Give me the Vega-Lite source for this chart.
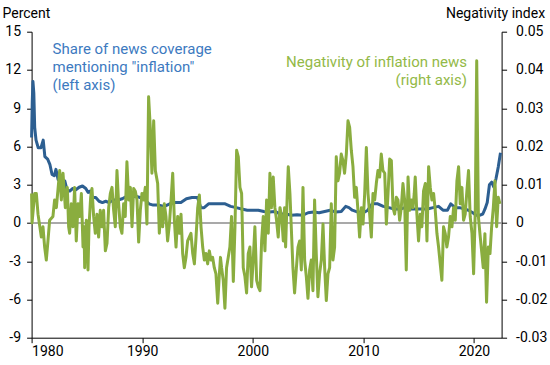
{
"$schema": "https://vega.github.io/schema/vega-lite/v6.json",
"width": 470, "height": 306,
"autosize": "none",
"padding": {"left": 31.6, "top": 31.7, "right": 48.4, "bottom": 27.3},
"config": {"view": {"stroke": null}, "axis": {"grid": false, "domainColor": "#000", "tickColor": "#000", "labelColor": "#000", "labelFont": "Roboto", "labelFontSize": 14, "titleFont": "Roboto", "titleFontSize": 14, "titleFontWeight": "normal", "titleColor": "#000", "tickSize": 5, "domainWidth": 1, "tickWidth": 1, "labelOverlap": false}},
"datasets": {
"share": [
{"t":1980.0,"p":6.7},{"t":1980.06,"p":9.5},{"t":1980.12,"p":11.1},{"t":1980.2,"p":10.2},{"t":1980.28,"p":7.5},{"t":1980.4,"p":6.5},{"t":1980.6,"p":5.9},{"t":1980.85,"p":5.9},{"t":1981.05,"p":6.5},{"t":1981.2,"p":5.2},{"t":1981.45,"p":5.0},{"t":1981.65,"p":4.6},{"t":1981.85,"p":3.8},{"t":1982.05,"p":3.7},{"t":1982.2,"p":4.2},{"t":1982.4,"p":3.4},{"t":1982.6,"p":3.3},{"t":1982.85,"p":3.0},{"t":1983.0,"p":3.3},{"t":1983.2,"p":2.6},{"t":1983.45,"p":2.5},{"t":1983.7,"p":2.7},{"t":1984.0,"p":2.6},{"t":1984.3,"p":2.8},{"t":1984.6,"p":2.9},{"t":1984.9,"p":2.7},{"t":1985.1,"p":2.4},{"t":1985.3,"p":2.5},{"t":1985.5,"p":2.0},{"t":1985.8,"p":2.0},{"t":1986.1,"p":1.7},{"t":1986.4,"p":1.6},{"t":1986.7,"p":1.7},{"t":1987.0,"p":1.6},{"t":1987.4,"p":1.8},{"t":1987.8,"p":1.8},{"t":1988.2,"p":1.9},{"t":1988.6,"p":2.1},{"t":1989.0,"p":2.0},{"t":1989.4,"p":2.1},{"t":1989.8,"p":2.0},{"t":1990.2,"p":1.9},{"t":1990.6,"p":1.5},{"t":1991.0,"p":1.4},{"t":1991.5,"p":1.4},{"t":1992.0,"p":1.3},{"t":1992.5,"p":1.5},{"t":1993.0,"p":1.6},{"t":1993.5,"p":1.6},{"t":1994.0,"p":1.9},{"t":1994.5,"p":2.0},{"t":1995.0,"p":2.0},{"t":1995.3,"p":1.2},{"t":1995.6,"p":1.2},{"t":1996.0,"p":1.5},{"t":1996.5,"p":1.5},{"t":1997.0,"p":1.5},{"t":1997.5,"p":1.5},{"t":1998.0,"p":1.3},{"t":1998.5,"p":1.2},{"t":1999.0,"p":1.1},{"t":1999.5,"p":1.0},{"t":2000.0,"p":1.0},{"t":2000.5,"p":1.0},{"t":2001.0,"p":0.9},{"t":2001.5,"p":0.85},{"t":2002.0,"p":0.9},{"t":2002.5,"p":0.7},{"t":2003.0,"p":0.7},{"t":2003.5,"p":0.6},{"t":2004.0,"p":0.65},{"t":2004.5,"p":0.6},{"t":2005.0,"p":0.8},{"t":2005.5,"p":0.85},{"t":2006.0,"p":0.8},{"t":2006.5,"p":0.9},{"t":2007.0,"p":1.0},{"t":2007.5,"p":0.85},{"t":2008.0,"p":0.9},{"t":2008.4,"p":1.3},{"t":2008.7,"p":1.2},{"t":2009.0,"p":1.0},{"t":2009.5,"p":0.85},{"t":2010.0,"p":0.8},{"t":2010.4,"p":1.0},{"t":2010.8,"p":1.5},{"t":2011.3,"p":1.5},{"t":2011.8,"p":1.3},{"t":2012.3,"p":1.2},{"t":2012.8,"p":1.1},{"t":2013.3,"p":1.1},{"t":2013.8,"p":1.2},{"t":2014.3,"p":1.1},{"t":2014.8,"p":1.1},{"t":2015.3,"p":1.1},{"t":2015.8,"p":1.1},{"t":2016.3,"p":1.2},{"t":2016.8,"p":1.3},{"t":2017.2,"p":1.0},{"t":2017.6,"p":1.0},{"t":2017.9,"p":1.5},{"t":2018.3,"p":1.2},{"t":2018.7,"p":1.2},{"t":2019.1,"p":1.1},{"t":2019.5,"p":1.0},{"t":2019.9,"p":0.8},{"t":2020.2,"p":0.6},{"t":2020.5,"p":0.6},{"t":2020.8,"p":0.7},{"t":2021.0,"p":1.1},{"t":2021.2,"p":1.6},{"t":2021.4,"p":3.0},{"t":2021.6,"p":3.2},{"t":2021.8,"p":2.8},{"t":2022.0,"p":3.5},{"t":2022.2,"p":4.4},{"t":2022.4,"p":5.5}
],
"neg": [
{"t":1980.0,"v":0.0077},{"t":1980.04,"v":0.0},{"t":1980.28,"v":0.0077},{"t":1980.43,"v":0.0077},{"t":1980.58,"v":0.0023},{"t":1980.88,"v":-0.0037},{"t":1981.03,"v":-0.001},{"t":1981.18,"v":-0.0063},{"t":1981.33,"v":-0.0097},{"t":1981.48,"v":-0.0047},{"t":1981.63,"v":0.0007},{"t":1981.93,"v":0.0017},{"t":1982.08,"v":0.006},{"t":1982.24,"v":0.004},{"t":1982.54,"v":0.0137},{"t":1982.69,"v":0.006},{"t":1982.84,"v":0.013},{"t":1983.05,"v":0.004},{"t":1983.23,"v":0.0093},{"t":1983.35,"v":-0.001},{"t":1983.44,"v":-0.0027},{"t":1983.59,"v":0.005},{"t":1983.74,"v":-0.001},{"t":1983.89,"v":0.0093},{"t":1984.04,"v":-0.0047},{"t":1984.2,"v":0.005},{"t":1984.35,"v":0.0017},{"t":1984.5,"v":0.0077},{"t":1984.65,"v":-0.0063},{"t":1984.74,"v":-0.001},{"t":1984.8,"v":-0.0117},{"t":1984.95,"v":0.0007},{"t":1985.04,"v":-0.0027},{"t":1985.1,"v":-0.0123},{"t":1985.19,"v":-0.001},{"t":1985.34,"v":0.0067},{"t":1985.46,"v":0.009},{"t":1985.61,"v":0.0017},{"t":1985.76,"v":-0.0027},{"t":1985.91,"v":0.0023},{"t":1986.06,"v":-0.0037},{"t":1986.21,"v":0.0033},{"t":1986.36,"v":-0.001},{"t":1986.51,"v":0.0033},{"t":1986.67,"v":-0.0073},{"t":1986.82,"v":-0.0053},{"t":1986.97,"v":0.004},{"t":1987.12,"v":0.0077},{"t":1987.27,"v":0.0093},{"t":1987.42,"v":0.0033},{"t":1987.57,"v":-0.001},{"t":1987.72,"v":0.0137},{"t":1987.87,"v":0.005},{"t":1988.02,"v":-0.001},{"t":1988.17,"v":-0.0027},{"t":1988.32,"v":0.005},{"t":1988.47,"v":0.0017},{"t":1988.62,"v":0.016},{"t":1988.78,"v":0.006},{"t":1988.93,"v":0.0093},{"t":1989.08,"v":-0.001},{"t":1989.23,"v":0.009},{"t":1989.38,"v":0.0083},{"t":1989.53,"v":0.006},{"t":1989.68,"v":-0.005},{"t":1989.83,"v":0.0033},{"t":1989.98,"v":0.0077},{"t":1990.13,"v":0.006},{"t":1990.28,"v":0.0093},{"t":1990.43,"v":-0.0003},{"t":1990.58,"v":0.033},{"t":1990.73,"v":0.025},{"t":1990.88,"v":0.013},{"t":1991.04,"v":0.0267},{"t":1991.19,"v":0.0137},{"t":1991.4,"v":0.0103},{"t":1991.55,"v":-0.0027},{"t":1991.7,"v":0.004},{"t":1991.85,"v":-0.001},{"t":1992.0,"v":0.005},{"t":1992.15,"v":0.0017},{"t":1992.3,"v":-0.0047},{"t":1992.46,"v":-0.0003},{"t":1992.61,"v":0.006},{"t":1992.76,"v":0.013},{"t":1992.91,"v":0.0007},{"t":1993.06,"v":-0.0063},{"t":1993.21,"v":0.0017},{"t":1993.36,"v":-0.0027},{"t":1993.51,"v":0.0023},{"t":1993.66,"v":-0.008},{"t":1993.81,"v":-0.0117},{"t":1993.96,"v":-0.009},{"t":1994.11,"v":-0.0047},{"t":1994.26,"v":-0.0037},{"t":1994.41,"v":-0.0027},{"t":1994.57,"v":-0.008},{"t":1994.72,"v":-0.0107},{"t":1994.87,"v":-0.0037},{"t":1995.02,"v":0.004},{"t":1995.17,"v":0.0073},{"t":1995.32,"v":-0.001},{"t":1995.47,"v":-0.0063},{"t":1995.62,"v":-0.0097},{"t":1995.77,"v":-0.008},{"t":1995.92,"v":-0.0107},{"t":1996.07,"v":-0.0073},{"t":1996.22,"v":-0.0097},{"t":1996.37,"v":-0.009},{"t":1996.52,"v":-0.0117},{"t":1996.67,"v":-0.0133},{"t":1996.83,"v":-0.021},{"t":1996.98,"v":-0.0133},{"t":1997.08,"v":-0.009},{"t":1997.18,"v":-0.0117},{"t":1997.33,"v":-0.015},{"t":1997.48,"v":-0.0223},{"t":1997.63,"v":-0.0117},{"t":1997.78,"v":-0.009},{"t":1997.93,"v":-0.0063},{"t":1998.08,"v":0.0017},{"t":1998.24,"v":-0.0153},{"t":1998.39,"v":-0.001},{"t":1998.54,"v":0.019},{"t":1998.69,"v":0.0173},{"t":1998.84,"v":0.0093},{"t":1998.99,"v":0.0077},{"t":1999.14,"v":-0.0117},{"t":1999.29,"v":-0.014},{"t":1999.44,"v":-0.0183},{"t":1999.59,"v":-0.008},{"t":1999.74,"v":-0.0063},{"t":1999.89,"v":-0.0167},{"t":2000.04,"v":-0.0097},{"t":2000.19,"v":-0.001},{"t":2000.35,"v":-0.015},{"t":2000.5,"v":-0.0167},{"t":2000.65,"v":-0.0177},{"t":2000.8,"v":-0.0047},{"t":2000.95,"v":0.0017},{"t":2001.1,"v":-0.0073},{"t":2001.25,"v":0.006},{"t":2001.4,"v":-0.0027},{"t":2001.55,"v":0.013},{"t":2001.7,"v":0.004},{"t":2001.85,"v":0.012},{"t":2002.0,"v":0.004},{"t":2002.15,"v":0.0007},{"t":2002.3,"v":-0.0037},{"t":2002.46,"v":0.004},{"t":2002.61,"v":0.0017},{"t":2002.76,"v":-0.0047},{"t":2002.88,"v":0.004},{"t":2002.97,"v":-0.0063},{"t":2003.12,"v":0.0077},{"t":2003.21,"v":0.0147},{"t":2003.36,"v":0.0077},{"t":2003.48,"v":-0.001},{"t":2003.63,"v":-0.0117},{"t":2003.78,"v":-0.0183},{"t":2003.93,"v":-0.0123},{"t":2004.09,"v":-0.0063},{"t":2004.24,"v":-0.0047},{"t":2004.39,"v":-0.0123},{"t":2004.54,"v":0.0093},{"t":2004.69,"v":-0.0097},{"t":2004.84,"v":-0.014},{"t":2004.99,"v":-0.0197},{"t":2005.14,"v":-0.0123},{"t":2005.29,"v":-0.0097},{"t":2005.44,"v":-0.0177},{"t":2005.59,"v":0.006},{"t":2005.74,"v":-0.008},{"t":2005.89,"v":-0.0193},{"t":2006.04,"v":-0.0133},{"t":2006.2,"v":-0.0097},{"t":2006.35,"v":-0.0003},{"t":2006.5,"v":-0.0117},{"t":2006.65,"v":-0.0203},{"t":2006.8,"v":-0.0133},{"t":2006.95,"v":-0.0117},{"t":2007.1,"v":0.005},{"t":2007.25,"v":-0.0097},{"t":2007.4,"v":-0.0063},{"t":2007.55,"v":0.0173},{"t":2007.7,"v":0.011},{"t":2007.85,"v":0.013},{"t":2008.0,"v":0.018},{"t":2008.15,"v":0.0163},{"t":2008.3,"v":0.013},{"t":2008.46,"v":0.018},{"t":2008.61,"v":0.0267},{"t":2008.76,"v":0.025},{"t":2008.91,"v":0.019},{"t":2009.06,"v":0.0147},{"t":2009.21,"v":0.0067},{"t":2009.36,"v":0.0093},{"t":2009.51,"v":0.0033},{"t":2009.66,"v":-0.0037},{"t":2009.82,"v":0.004},{"t":2009.97,"v":-0.0003},{"t":2010.12,"v":0.0077},{"t":2010.27,"v":0.0197},{"t":2010.42,"v":0.0077},{"t":2010.57,"v":0.0023},{"t":2010.72,"v":-0.0037},{"t":2010.87,"v":0.0077},{"t":2011.02,"v":0.006},{"t":2011.17,"v":0.0103},{"t":2011.32,"v":0.0137},{"t":2011.47,"v":0.012},{"t":2011.62,"v":0.018},{"t":2011.77,"v":0.0137},{"t":2011.93,"v":0.013},{"t":2012.08,"v":-0.0003},{"t":2012.23,"v":0.0077},{"t":2012.38,"v":0.0167},{"t":2012.53,"v":0.0163},{"t":2012.68,"v":0.004},{"t":2012.83,"v":0.0023},{"t":2012.98,"v":0.0067},{"t":2013.13,"v":0.006},{"t":2013.28,"v":0.0007},{"t":2013.43,"v":0.004},{"t":2013.58,"v":0.0103},{"t":2013.73,"v":0.006},{"t":2013.88,"v":-0.0123},{"t":2014.04,"v":0.012},{"t":2014.19,"v":0.0033},{"t":2014.34,"v":0.006},{"t":2014.49,"v":0.004},{"t":2014.6,"v":0.0077},{"t":2014.69,"v":0.012},{"t":2014.84,"v":0.0023},{"t":2014.99,"v":-0.0047},{"t":2015.14,"v":0.0023},{"t":2015.29,"v":-0.001},{"t":2015.44,"v":0.0083},{"t":2015.6,"v":0.0103},{"t":2015.75,"v":-0.0047},{"t":2015.9,"v":0.0147},{"t":2016.05,"v":0.0093},{"t":2016.2,"v":0.006},{"t":2016.35,"v":0.0077},{"t":2016.5,"v":0.0033},{"t":2016.65,"v":-0.0027},{"t":2016.8,"v":-0.0063},{"t":2016.95,"v":-0.0107},{"t":2017.1,"v":-0.015},{"t":2017.25,"v":-0.001},{"t":2017.4,"v":-0.0027},{"t":2017.55,"v":-0.0063},{"t":2017.7,"v":-0.0037},{"t":2017.86,"v":0.0017},{"t":2018.01,"v":-0.001},{"t":2018.16,"v":0.004},{"t":2018.31,"v":0.0007},{"t":2018.46,"v":0.011},{"t":2018.61,"v":0.0147},{"t":2018.76,"v":0.005},{"t":2018.91,"v":0.0093},{"t":2019.06,"v":0.0007},{"t":2019.21,"v":0.0023},{"t":2019.36,"v":0.0083},{"t":2019.51,"v":0.0137},{"t":2019.66,"v":0.0017},{"t":2019.82,"v":-0.0027},{"t":2019.97,"v":-0.0133},{"t":2020.12,"v":0.0033},{"t":2020.25,"v":0.0424},{"t":2020.4,"v":0.0017},{"t":2020.54,"v":-0.0028},{"t":2020.84,"v":-0.0117},{"t":2020.99,"v":-0.0028},{"t":2021.14,"v":-0.0207},{"t":2021.3,"v":-0.0063},{"t":2021.45,"v":-0.008},{"t":2021.6,"v":-0.001},{"t":2021.75,"v":0.004},{"t":2021.9,"v":0.011},{"t":2022.05,"v":-0.001},{"t":2022.2,"v":0.0067},{"t":2022.35,"v":0.005}
]
},
"layer": [
{"data": {"name": "share"}, "mark": {"type": "line", "color": "#2d5f91", "strokeWidth": 3, "strokeJoin": "round"},
 "encoding": {
  "x": {"field": "t", "type": "quantitative", "scale": {"domain": [1980, 2022.5], "nice": false, "zero": false}, "axis": {"title": null, "values": [1980, 1990, 2000, 2010, 2020], "format": "d", "labelPadding": 2, "labelOverlap": false}},
  "y": {"field": "p", "type": "quantitative", "scale": {"domain": [-9, 15], "nice": false, "zero": false}, "axis": {"title": "Percent", "titleAngle": 0, "titleAlign": "left", "titleBaseline": "alphabetic", "titleX": -29.6, "titleY": -14.7, "values": [-9, -6, -3, 0, 3, 6, 9, 12, 15], "labelExpr": "'' + datum.value", "labelPadding": 6, "labelOverlap": false}}
 }},
{
"layer": [
{"data": {"values": [{"t": 2000, "v": 0}]}, "mark": {"type": "rule", "color": "#8c8c8c", "strokeWidth": 1.5},
 "encoding": {"y": {"field": "v", "type": "quantitative", "scale": {"domain": [-0.03, 0.05], "nice": false, "zero": false}, "axis": {"orient": "right", "title": "Negativity index", "titleAngle": 0, "titleAlign": "right", "titleBaseline": "alphabetic", "titleX": 43, "titleY": -14.7, "values": [-0.03, -0.02, -0.01, 0, 0.01, 0.02, 0.03, 0.04, 0.05], "labelExpr": "'' + datum.value", "labelPadding": 9, "labelOverlap": false}}}},
{"data": {"name": "neg"}, "mark": {"type": "line", "color": "#8aad3f", "strokeWidth": 3, "strokeJoin": "round"},
 "encoding": {
  "x": {"field": "t", "type": "quantitative", "scale": {"domain": [1980, 2022.5], "nice": false, "zero": false}, "axis": {"title": null, "values": [1980, 1990, 2000, 2010, 2020], "format": "d", "labelPadding": 2, "labelOverlap": false}},
  "y": {"field": "v", "type": "quantitative", "scale": {"domain": [-0.03, 0.05], "nice": false, "zero": false}, "axis": {"orient": "right", "title": "Negativity index", "titleAngle": 0, "titleAlign": "right", "titleBaseline": "alphabetic", "titleX": 43, "titleY": -14.7, "values": [-0.03, -0.02, -0.01, 0, 0.01, 0.02, 0.03, 0.04, 0.05], "labelExpr": "'' + datum.value", "labelPadding": 9, "labelOverlap": false}}
 }},
{"data": {"values": [{"t": 1981.9, "v": 0.04423, "label": "Share of news coverage\nmentioning \"inflation\"\n(left axis)"}]},
 "mark": {"type": "text", "align": "left", "baseline": "alphabetic", "lineBreak": "\n", "lineHeight": 18, "font": "Roboto", "fontSize": 15, "color": "#3d7abf"},
 "encoding": {
  "x": {"field": "t", "type": "quantitative", "scale": {"domain": [1980, 2022.5], "nice": false, "zero": false}, "axis": {"title": null, "values": [1980, 1990, 2000, 2010, 2020], "format": "d", "labelPadding": 2, "labelOverlap": false}},
  "y": {"field": "v", "type": "quantitative", "scale": {"domain": [-0.03, 0.05], "nice": false, "zero": false}, "axis": {"orient": "right", "title": "Negativity index", "titleAngle": 0, "titleAlign": "right", "titleBaseline": "alphabetic", "titleX": 43, "titleY": -14.7, "values": [-0.03, -0.02, -0.01, 0, 0.01, 0.02, 0.03, 0.04, 0.05], "labelExpr": "'' + datum.value", "labelPadding": 9, "labelOverlap": false}},
  "text": {"field": "label", "type": "nominal"}}},
{"data": {"values": [{"t": 2019.37, "v": 0.04067, "label": "Negativity of inflation news\n(right axis)"}]},
 "mark": {"type": "text", "align": "right", "baseline": "alphabetic", "lineBreak": "\n", "lineHeight": 18, "font": "Roboto", "fontSize": 15, "color": "#93b947"},
 "encoding": {
  "x": {"field": "t", "type": "quantitative", "scale": {"domain": [1980, 2022.5], "nice": false, "zero": false}, "axis": {"title": null, "values": [1980, 1990, 2000, 2010, 2020], "format": "d", "labelPadding": 2, "labelOverlap": false}},
  "y": {"field": "v", "type": "quantitative", "scale": {"domain": [-0.03, 0.05], "nice": false, "zero": false}, "axis": {"orient": "right", "title": "Negativity index", "titleAngle": 0, "titleAlign": "right", "titleBaseline": "alphabetic", "titleX": 43, "titleY": -14.7, "values": [-0.03, -0.02, -0.01, 0, 0.01, 0.02, 0.03, 0.04, 0.05], "labelExpr": "'' + datum.value", "labelPadding": 9, "labelOverlap": false}},
  "text": {"field": "label", "type": "nominal"}}}
]
}
],
"resolve": {"scale": {"y": "independent"}}
}
